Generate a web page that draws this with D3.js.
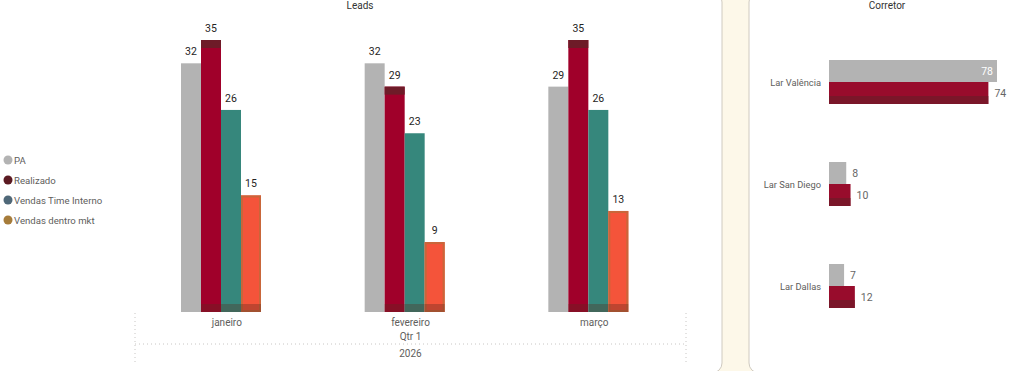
<!DOCTYPE html>
<html>
<head>
<meta charset="utf-8">
<script src="https://cdn.jsdelivr.net/npm/d3@7"></script>
<style>
  body { margin: 0; background: #fdf8e9; }
  svg { display: block; font-family: "Segoe UI", Roboto, sans-serif; }
</style>
</head>
<body>
<script>
// Leads chart data
var months = ["janeiro", "fevereiro", "março"];
var seriesNames = ["PA", "Realizado", "Vendas Time Interno", "Vendas dentro mkt"];
var paLeads = [32, 32, 29];
var realizadoLeads = [35, 29, 35];
var timeInternoLeads = [26, 23, 26];
var dentroMktLeads = [15, 9, 13];
var barColors = ["#b3b3b3", "#a0002a", "#36877c", "#f4543a"];
var legendColors = ["#b3b3b3", "#5b1a22", "#4f6878", "#a67c3a"];

// Corretor chart data
var corretores = ["Lar Valência", "Lar San Diego", "Lar Dallas"];
var paCorretor = [78, 8, 7];
var realizadoCorretor = [74, 10, 12];

var svg = d3.select("body")
    .append("svg")
    .attr("width", 1024)
    .attr("height", 371);

// panels
svg.append("rect")
    .attr("x", -12).attr("y", -8)
    .attr("width", 734).attr("height", 381)
    .attr("rx", 10)
    .attr("fill", "#fff")
    .attr("stroke", "#cfcac0");

svg.append("rect")
    .attr("x", 749).attr("y", -8)
    .attr("width", 290).attr("height", 381)
    .attr("rx", 10)
    .attr("fill", "#fff")
    .attr("stroke", "#cfcac0");

svg.append("text")
    .attr("x", 360).attr("y", 9)
    .attr("text-anchor", "middle")
    .attr("font-size", 10)
    .attr("fill", "#333")
    .text("Leads");

svg.append("text")
    .attr("x", 887).attr("y", 9)
    .attr("text-anchor", "middle")
    .attr("font-size", 10)
    .attr("fill", "#333")
    .text("Corretor");

// ---- Leads clustered columns ----
var leadRows = months.map(function(m, i) {
    return {
        month: m,
        values: [paLeads[i], realizadoLeads[i], timeInternoLeads[i], dentroMktLeads[i]]
    };
});

var x0 = d3.scaleBand()
    .domain(months)
    .range([135, 686]);

var x1 = d3.scaleBand()
    .domain(seriesNames)
    .range([46, 126]);

var y = d3.scaleLinear()
    .domain([0, 35])
    .range([312, 40]);

var groups = svg.append("g").selectAll("g")
    .data(leadRows)
    .enter()
    .append("g")
    .attr("transform", function(d) { return "translate(" + x0(d.month) + ",0)"; });

var cells = groups.selectAll("g")
    .data(function(d) {
        return d.values.map(function(v, j) { return { name: seriesNames[j], value: v, idx: j }; });
    })
    .enter()
    .append("g");

cells.append("rect")
    .attr("x", function(d) { return x1(d.name); })
    .attr("y", function(d) { return y(d.value); })
    .attr("width", x1.bandwidth())
    .attr("height", function(d) { return y(0) - y(d.value); })
    .attr("fill", function(d) { return barColors[d.idx]; });

// darker cap on the Realizado columns
cells.filter(function(d) { return d.idx == 1; })
    .append("rect")
    .attr("x", function(d) { return x1(d.name); })
    .attr("y", function(d) { return y(d.value); })
    .attr("width", x1.bandwidth())
    .attr("height", 8)
    .attr("fill", "#6e1b28");

// border on the mkt columns
cells.filter(function(d) { return d.idx == 3; })
    .append("rect")
    .attr("x", function(d) { return x1(d.name) + 1; })
    .attr("y", function(d) { return y(d.value) + 1; })
    .attr("width", x1.bandwidth() - 2)
    .attr("height", function(d) { return y(0) - y(d.value) - 2; })
    .attr("fill", "none")
    .attr("stroke", "#c9663a")
    .attr("stroke-width", 2);

// bottom shade
cells.append("rect")
    .attr("x", function(d) { return x1(d.name); })
    .attr("y", y(0) - 8)
    .attr("width", x1.bandwidth())
    .attr("height", 8)
    .attr("fill", "#5a2a20")
    .attr("opacity", function(d) { return d.idx == 0 ? 0 : 0.35; });

cells.append("text")
    .attr("x", function(d) { return x1(d.name) + x1.bandwidth() / 2; })
    .attr("y", function(d) { return y(d.value) - 8; })
    .attr("text-anchor", "middle")
    .attr("font-size", 10.5)
    .attr("fill", "#252423")
    .text(function(d) { return d.value; });

// x axis: month / quarter / year
var axis = svg.append("g");

axis.selectAll("text.month")
    .data(months)
    .enter()
    .append("text")
    .attr("class", "month")
    .attr("x", function(d) { return x0(d) + x0.bandwidth() / 2; })
    .attr("y", 326)
    .attr("text-anchor", "middle")
    .attr("font-size", 10)
    .attr("fill", "#605e5c")
    .text(function(d) { return d; });

var xr = x0.range();
axis.append("text")
    .attr("x", (xr[0] + xr[1]) / 2)
    .attr("y", 340)
    .attr("text-anchor", "middle")
    .attr("font-size", 10)
    .attr("fill", "#605e5c")
    .text("Qtr 1");

axis.append("text")
    .attr("x", (xr[0] + xr[1]) / 2)
    .attr("y", 357)
    .attr("text-anchor", "middle")
    .attr("font-size", 10)
    .attr("fill", "#605e5c")
    .text("2026");

axis.append("line")
    .attr("x1", xr[0]).attr("x2", xr[1])
    .attr("y1", 344).attr("y2", 344)
    .attr("stroke", "#c8c6c4")
    .attr("stroke-dasharray", "1,3");

axis.selectAll("line.edge")
    .data(xr)
    .enter()
    .append("line")
    .attr("class", "edge")
    .attr("x1", function(d) { return d; })
    .attr("x2", function(d) { return d; })
    .attr("y1", 313).attr("y2", 362)
    .attr("stroke", "#c8c6c4")
    .attr("stroke-dasharray", "1,3");

// legend
var legend = svg.append("g").selectAll("g")
    .data(seriesNames)
    .enter()
    .append("g")
    .attr("transform", function(d, i) { return "translate(8," + (160 + i * 20) + ")"; });

legend.append("circle")
    .attr("r", 4.5)
    .attr("fill", function(d, i) { return legendColors[i]; });

legend.append("text")
    .attr("x", 6)
    .attr("y", 4)
    .attr("font-size", 9.6)
    .attr("fill", "#605e5c")
    .text(function(d) { return d; });

// ---- Corretor clustered bars ----
var corRows = corretores.map(function(c, i) {
    return { name: c, values: [paCorretor[i], realizadoCorretor[i]] };
});

var yc = d3.scaleBand()
    .domain(corretores)
    .range([31, 337]);

var yc1 = d3.scaleBand()
    .domain(["PA", "Realizado"])
    .range([29, 73]);

var xc = d3.scaleLinear()
    .domain([0, 78])
    .range([829, 997]);

var corColors = ["#b3b3b3", "#980c2c"];

var corGroups = svg.append("g").selectAll("g")
    .data(corRows)
    .enter()
    .append("g")
    .attr("transform", function(d) { return "translate(0," + yc(d.name) + ")"; });

corGroups.append("text")
    .attr("x", 821)
    .attr("y", 55)
    .attr("text-anchor", "end")
    .attr("font-size", 9.3)
    .attr("fill", "#605e5c")
    .text(function(d) { return d.name; });

var corCells = corGroups.selectAll("g")
    .data(function(d) {
        return d.values.map(function(v, j) { return { s: j == 0 ? "PA" : "Realizado", value: v, idx: j }; });
    })
    .enter()
    .append("g");

corCells.append("rect")
    .attr("x", xc(0))
    .attr("y", function(d) { return yc1(d.s); })
    .attr("width", function(d) { return xc(d.value) - xc(0); })
    .attr("height", yc1.bandwidth())
    .attr("fill", function(d) { return corColors[d.idx]; });

corCells.filter(function(d) { return d.idx == 1; })
    .append("rect")
    .attr("x", xc(0))
    .attr("y", function(d) { return yc1(d.s) + yc1.bandwidth() - 8; })
    .attr("width", function(d) { return xc(d.value) - xc(0); })
    .attr("height", 8)
    .attr("fill", "#6e1b28")
    .attr("opacity", 0.7);

corCells.append("text")
    .attr("x", function(d) {
        var end = xc(d.value);
        return end + 25 > 1020 ? end - 4 : end + 6;
    })
    .attr("y", function(d) { return yc1(d.s) + yc1.bandwidth() / 2 + 4; })
    .attr("text-anchor", function(d) { return xc(d.value) + 25 > 1020 ? "end" : "start"; })
    .attr("font-size", 10.5)
    .attr("fill", function(d) { return xc(d.value) + 25 > 1020 ? "#fff" : "#666666"; })
    .text(function(d) { return d.value; });
</script>
</body>
</html>
